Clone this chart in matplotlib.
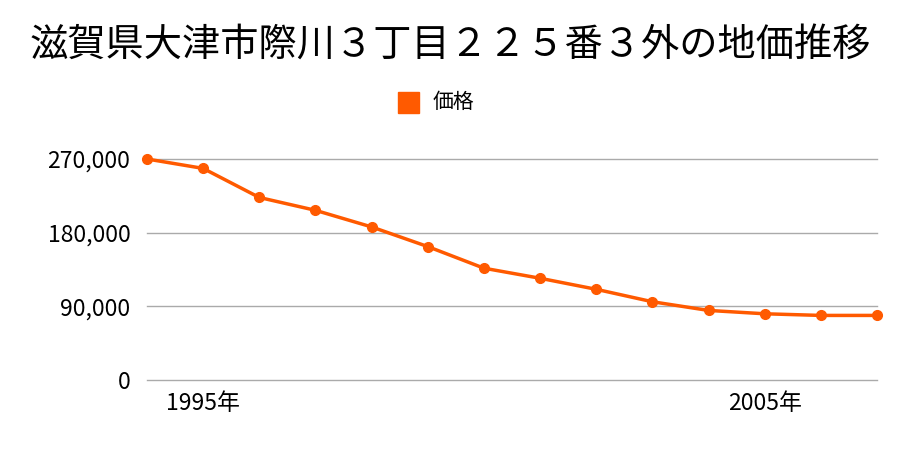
import matplotlib
matplotlib.use("Agg")
import matplotlib.pyplot as plt

plt.rcParams["font.family"] = ["Noto Sans CJK JP", "DejaVu Sans"]

# data
years = [1994, 1995, 1996, 1997, 1998, 1999, 2000, 2001, 2002, 2003, 2004, 2005, 2006, 2007]
prices = [270000, 258500, 223000, 207300, 187000, 163000, 136600, 124300, 110800,
          95600, 85000, 80900, 78900, 78900]
y_ticks = [0, 90000, 180000, 270000]
y_tick_labels = ["0", "90,000", "180,000", "270,000"]
x_ticks = [1995, 2005]
x_tick_labels = ["1995年", "2005年"]

title = "滋賀県大津市際川３丁目２２５番３外の地価推移"
series_name = "価格"
color = "#ff5a00"

fig = plt.figure(figsize=(9, 4.5), dpi=100)
ax = fig.add_axes([147 / 900, 1 - 380 / 450, 730 / 900, 221 / 450])

ax.plot(years, prices, color=color, lw=2.5, marker="o", ms=7, clip_on=False, zorder=3)

ax.set_xlim(1994, 2007)
ax.set_ylim(0, 270000)
ax.set_yticks(y_ticks)
ax.set_yticklabels(y_tick_labels, fontsize=16.5)
ax.set_xticks(x_ticks)
ax.set_xticklabels(x_tick_labels, fontsize=16.5)
ax.tick_params(length=0)
ax.tick_params(axis="y", pad=12)
ax.tick_params(axis="x", pad=9)
for t in y_ticks:
    ax.axhline(t, color="#aaaaaa", lw=1, zorder=1, clip_on=False)
for s in ax.spines.values():
    s.set_visible(False)

fig.text(0.5, 1 - 45 / 450, title, ha="center", va="center", fontsize=27.5)

# legend
fig.patches.append(plt.Rectangle((398 / 900, 1 - 113 / 450), 21 / 900, 21 / 450,
                                 transform=fig.transFigure, color=color))
fig.text(433 / 900, 1 - 102 / 450, series_name, ha="left", va="center", fontsize=15)

fig.savefig("out.png", dpi=100)
